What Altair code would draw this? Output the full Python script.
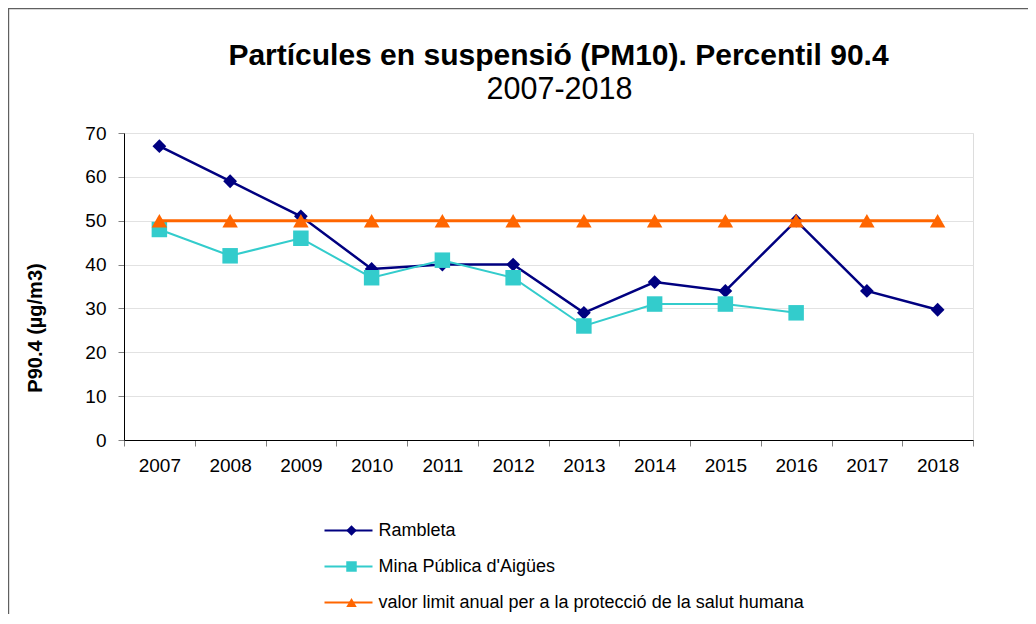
import altair as alt
import pandas as pd

title_text = "Partícules en suspensió (PM10). Percentil 90.4"
subtitle_text = "2007-2018"
years = [2007, 2008, 2009, 2010, 2011, 2012, 2013, 2014, 2015, 2016, 2017, 2018]
rambleta = [67, 59, 51, 39, 40, 40, 29, 36, 34, 50, 34, 29.7]
mina = [48, 42, 46, 37, 41, 37, 26, 31, 31, 29, None, None]
limit = [50, 50, 50, 50, 50, 50, 50, 50, 50, 50, 50, 50]
series_names = ["Rambleta", "Mina Pública d'Aigües",
                "valor limit anual per a la protecció de la salut humana"]
series_values = [rambleta, mina, limit]
colors = ["#000080", "#33CCCC", "#FF6600"]
shapes = ["diamond", "square", "triangle-up"]
stroke_widths = [2.5, 2, 3]
point_sizes = [190, 240, 240]
y_ticks = [0, 10, 20, 30, 40, 50, 60, 70]

rows = []
for name, vals in zip(series_names, series_values):
    for yr, v in zip(years, vals):
        if v is not None:
            rows.append({"year": str(yr), "value": v, "serie": name})
df = pd.DataFrame(rows)

FONT = "Liberation Sans"

x_enc = alt.X("year:O",
              scale=alt.Scale(type="band", paddingInner=0, paddingOuter=0),
              axis=alt.Axis(title=None, labelAngle=0, tickBand="extent", grid=False,
                            domainColor="black", domainWidth=1, tickColor="#808080",
                            tickSize=6, labelPadding=10, labelFontSize=19,
                            labelFont=FONT, labelColor="black", labelOverlap=False))
y_enc = alt.Y("value:Q",
              scale=alt.Scale(domain=[0, 70], nice=False),
              axis=alt.Axis(values=y_ticks, title="P90.4 (µg/m3)", grid=True,
                            gridColor="#e2e2e2", domainColor="black", domainWidth=1,
                            tickColor="#808080", tickSize=6, labelPadding=12,
                            labelFontSize=19, labelFont=FONT, labelColor="black",
                            titleFont=FONT, titleFontSize=20, titleFontWeight="bold",
                            titleColor="black", titleX=-89, titleY=194.5, titleAngle=270,
                            titleAlign="center", titleBaseline="middle"))

legend_lines = alt.Legend(orient="none", legendX=215.5, legendY=388.5, title=None,
                          symbolType="M-3,0H3", symbolSize=256, symbolStrokeWidth=2,
                          labelFont=FONT, labelFontSize=18, labelColor="black",
                          labelOffset=21, rowPadding=18, padding=0, labelLimit=700,
                          direction="vertical")
legend_marks = alt.Legend(orient="none", legendX=218.5, legendY=388.5, title=None,
                          symbolSize=110, symbolStrokeWidth=0, symbolOpacity=1,
                          labelFont=FONT, labelFontSize=18, labelOpacity=0,
                          labelOffset=20, rowPadding=18, padding=0, labelLimit=700,
                          direction="vertical")

frame = alt.Chart(alt.Data(values=[{"f": 1}])).mark_rect(
    fill=None, stroke="#606060", strokeWidth=1.2).encode(
    x=alt.value(-115.4), x2=alt.value(1200), y=alt.value(-124.4), y2=alt.value(700))

title_layer = alt.Chart(alt.Data(values=[{"t": title_text}])).mark_text(
    font=FONT, fontSize=30, fontWeight="bold", color="black",
    align="center", baseline="alphabetic").encode(
    x=alt.value(434.5), y=alt.value(-68), text="t:N")
subtitle_layer = alt.Chart(alt.Data(values=[{"t": subtitle_text}])).mark_text(
    font=FONT, fontSize=30.5, color="black",
    align="center", baseline="alphabetic").encode(
    x=alt.value(435.5), y=alt.value(-34), text="t:N")

layers = [frame, title_layer, subtitle_layer]
for name, sw, ps in zip(series_names, stroke_widths, point_sizes):
    base = alt.Chart(df).transform_filter(alt.datum.serie == name)
    line = base.mark_line(strokeWidth=sw).encode(
        x=x_enc, y=y_enc,
        stroke=alt.Stroke("serie:N", sort=series_names,
                          scale=alt.Scale(range=colors), legend=legend_lines))
    pts = base.mark_point(filled=True, size=ps, opacity=1, strokeWidth=0).encode(
        x=x_enc, y=y_enc,
        fill=alt.Fill("serie:N", scale=alt.Scale(domain=series_names, range=colors),
                      legend=legend_marks),
        shape=alt.Shape("serie:N", scale=alt.Scale(domain=series_names, range=shapes),
                        legend=legend_marks))
    layers += [line, pts]

chart = alt.layer(*layers).properties(
    width=849, height=307,
    autosize=alt.AutoSizeParams(type="none"),
    padding={"left": 116, "top": 125, "right": 55, "bottom": 174},
).configure_view(stroke="#a0a0a0", strokeWidth=1).configure(background="white")

chart.save("out.html", embed_options={"renderer": "svg", "actions": False})
